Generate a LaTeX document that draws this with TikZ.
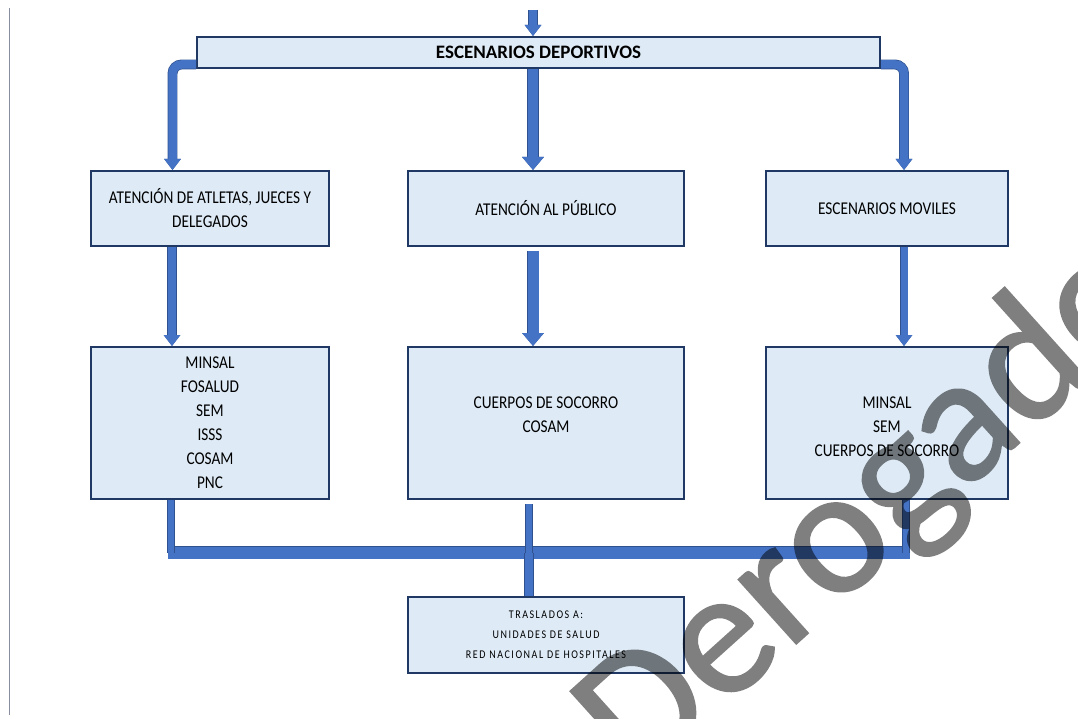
\documentclass[tikz,border=0pt]{standalone}
\usepackage{fontspec}
\setmainfont{Carlito}
\newfontfamily\rowfont[FakeStretch=0.85]{Carlito}
\newfontfamily\botfont[FakeStretch=0.85,LetterSpace=13]{Carlito}
\newfontfamily\wmfont[FakeBold=1.2]{Carlito}
\usetikzlibrary{arrows.meta}
\definecolor{boxfill}{HTML}{DEEBF7}
\definecolor{boxedge}{HTML}{1F3864}
\definecolor{conblue}{HTML}{4472C4}
\definecolor{conedge}{HTML}{2F528F}
\definecolor{sidegray}{HTML}{8A8FA0}
\begin{document}
\begin{tikzpicture}[x=1pt,y=-1pt,
  box/.style={draw=boxedge, line width=2pt, fill=boxfill, inner sep=0pt, align=center, text=black},
  lvl/.style={box, font=\rowfont\fontsize{18}{24}\selectfont},
  conn/.style={draw=conblue, line width=#1, preaction={draw=conedge, line width=#1+1.4pt}},
  tipS/.style={-{Triangle[width=16pt,length=11pt]}},
  tipL/.style={-{Triangle[width=21pt,length=13pt]}}
]
\useasboundingbox (0,0) rectangle (1078,719);
\draw[sidegray, line width=1pt] (9,8) -- (9,715);

% nodes
\node[box, minimum width=683pt, minimum height=31pt, font=\fontsize{19}{22}\selectfont\bfseries] (top) at (538.5,52.5) {ESCENARIOS DEPORTIVOS};
\node[lvl, minimum width=238pt, minimum height=75pt] (a1) at (210,208.5) {ATENCIÓN DE ATLETAS, JUECES Y\\DELEGADOS};
\node[lvl, minimum width=276pt, minimum height=75pt] (a2) at (546,208.5) {ATENCIÓN AL PÚBLICO};
\node[lvl, minimum width=242pt, minimum height=75pt] (a3) at (887,208.5) {ESCENARIOS MOVILES};
\node[lvl, minimum width=238pt, minimum height=152pt] (b1) at (210,423) {MINSAL\\FOSALUD\\SEM\\ISSS\\COSAM\\PNC};
\node[lvl, minimum width=276pt, minimum height=152pt] (b2) at (546,423) {CUERPOS DE SOCORRO\\COSAM\\[-7pt]\mbox{}};
\node[lvl, minimum width=242pt, minimum height=152pt] (b3) at (887,423) {\mbox{}\\[-4.6pt]MINSAL\\SEM\\CUERPOS DE SOCORRO};
\node[box, minimum width=276pt, minimum height=76pt, font=\botfont\fontsize{11.8}{20}\selectfont] (c) at (546,635) {TRASLADOS A:\\UNIDADES DE SALUD\\RED NACIONAL DE HOSPITALES};

% connectors from top
\coordinate (in) at (533,10);
\draw[conn=8pt, tipS] (in) -- (in |- top.north);
\draw[conn=8.5pt, tipS, rounded corners=9pt] ([yshift=-12pt]top.west) -| ([xshift=-37.5pt]a1.north);
\draw[conn=8.5pt, tipS, rounded corners=9pt] ([yshift=-12pt]top.east) -| ([xshift=17pt]a3.north);
\draw[conn=10pt, tipL] ([xshift=-5.5pt]top.south) -- ([xshift=-13pt]a2.north);

% level 1 to level 2
\draw[conn=8pt, tipS] ([xshift=-38pt]a1.south) -- ([xshift=-38pt]b1.north);
\draw[conn=11pt, tipL] ([xshift=-13pt,yshift=-4pt]a2.south) -- ([xshift=-13pt]b2.north);
\draw[conn=7pt, tipS] ([xshift=17pt]a3.south) -- ([xshift=17pt]b3.north);

% bus
\coordinate (busL) at (168,552.5);
\coordinate (busR) at (910,552.5);
\draw[conn=12pt] (busL) -- (busR);
\draw[conn=6pt] ([xshift=-39pt]b1.south) -- ([xshift=-39pt]b1.south |- busL);
\draw[conn=6pt] ([xshift=-17pt,yshift=-4pt]b2.south) -- ([xshift=-17pt]b2.south |- busL);
\draw[conn=6pt] ([xshift=19pt]b3.south) -- ([xshift=19pt]b3.south |- busL);
\draw[conn=8pt] ([xshift=-17pt]c.north |- busL) -- ([xshift=-17pt]c.north);

% watermark
\begin{scope}[transparency group, opacity=0.5]
\node[rotate=42, font=\wmfont\fontsize{180}{180}\selectfont, text=black] (wm) at (872,512) {Derogado};
\end{scope}
\end{tikzpicture}
\end{document}
